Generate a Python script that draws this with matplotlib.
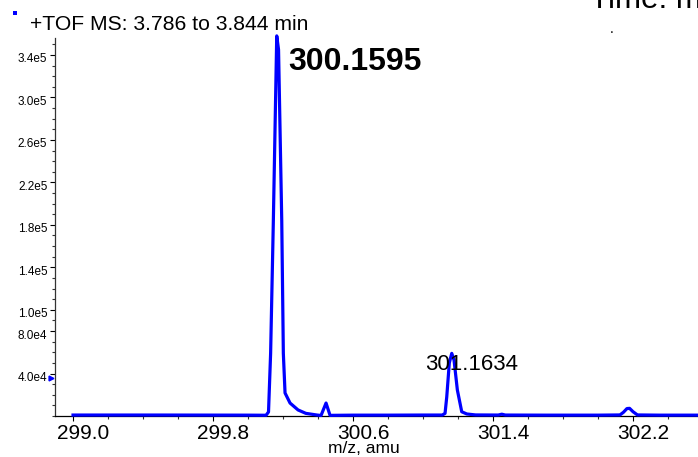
import matplotlib
matplotlib.use('Agg')
import matplotlib.pyplot as plt
from matplotlib.transforms import ScaledTranslation
from matplotlib.ticker import FixedLocator, MultipleLocator
from matplotlib.patches import Rectangle

plt.rcParams['font.family'] = ['Liberation Sans', 'DejaVu Sans']

W, H, DPI = 698, 457, 100

# ---- data ----
mz = [299.00, 299.50, 300.00, 300.103, 300.117, 300.129, 300.1446, 300.164,
      300.1743, 300.1926, 300.2017, 300.2114, 300.240, 300.2857, 300.330,
      300.3943, 300.4171, 300.4457, 300.4686, 300.60, 300.80, 301.00,
      301.110, 301.1257, 301.1354, 301.150, 301.164, 301.177, 301.196,
      301.221, 301.250, 301.30, 301.43, 301.45, 301.47, 301.70, 302.00,
      302.125, 302.145, 302.165, 302.180, 302.200, 302.225, 302.35, 302.60]
intensity = [900, 900, 800, 700, 3800, 59000, 184000, 358000,
             345000, 184000, 59000, 21700, 12200, 5700, 2500,
             900, 500, 12200, 600, 800, 800, 900,
             900, 2500, 18000, 50000, 59000, 52700, 24500,
             4000, 1900, 1000, 900, 1700, 900, 800, 800,
             1000, 3500, 7000, 7200, 4000, 1000, 800, 800]

xtick_values = [299.0, 299.8, 300.6, 301.4, 302.2]
xtick_labels = ['299.0', '299.8', '300.6', '301.4', '302.2']
ytick_values = [4.0e4, 8.0e4, 1.0e5, 1.4e5, 1.8e5, 2.2e5, 2.6e5, 3.0e5, 3.4e5]
ytick_labels = ['4.0e4', '8.0e4', '1.0e5', '1.4e5', '1.8e5', '2.2e5', '2.6e5', '3.0e5', '3.4e5']

peak_labels = ['300.1595', '301.1634']
title = '+TOF MS: 3.786 to 3.844 min'
xlabel = 'm/z, amu'

# ---- figure ----
fig = plt.figure(figsize=(W / DPI, H / DPI), dpi=DPI)
ax = fig.add_axes([55 / W, (H - 416) / H, (W - 55) / W, (416 - 38) / H])

BLUE = '#0000ff'
ax.plot(mz, intensity, color=BLUE, lw=2.3, solid_joinstyle='round', clip_on=False, zorder=3)

ax.set_xlim(298.897, 302.571)
ax.set_ylim(0, 356000)

for s in ['top', 'right']:
    ax.spines[s].set_visible(False)
ax.spines['left'].set_color('#333333')
ax.spines['left'].set_linewidth(0.9)
ax.spines['bottom'].set_color('#000000')
ax.spines['bottom'].set_linewidth(0.9)

ax.xaxis.set_major_locator(FixedLocator(xtick_values))
ax.set_xticklabels(xtick_labels)
ax.xaxis.set_minor_locator(MultipleLocator(0.2))
ax.yaxis.set_major_locator(FixedLocator(ytick_values))
ax.set_yticklabels(ytick_labels)
ax.yaxis.set_minor_locator(MultipleLocator(1e4))

ax.tick_params(axis='x', which='major', direction='out', length=3.5, width=0.8,
               labelsize=15, pad=2, colors='black')
ax.tick_params(axis='x', which='minor', direction='out', length=2.5, width=0.8, colors='#333333')
ax.tick_params(axis='y', which='major', direction='out', length=3.5, width=0.8,
               labelsize=8.5, pad=2, colors='black')
ax.tick_params(axis='y', which='minor', direction='out', length=2.5, width=0.8, colors='#333333')

for lab in ax.get_xticklabels():
    lab.set_transform(lab.get_transform() + ScaledTranslation(10 / DPI, 0, fig.dpi_scale_trans))
for lab in ax.get_yticklabels():
    lab.set_transform(lab.get_transform() + ScaledTranslation(0, -3 / DPI, fig.dpi_scale_trans))

# peak labels
ax.annotate(peak_labels[0], xy=(mz[7], intensity[7]), xytext=(288 / W, 1 - 70 / H),
            textcoords='figure fraction', fontsize=23, fontweight='bold',
            va='baseline', ha='left', annotation_clip=False)
ax.annotate(peak_labels[1], xy=(mz[26], intensity[26]), xytext=(425 / W, 1 - 370 / H),
            textcoords='figure fraction', fontsize=16, va='baseline', ha='left',
            annotation_clip=False)

# title and other figure texts
fig.text(30 / W, 1 - 30 / H, title, fontsize=15.2, va='baseline', ha='left')
fig.text(328 / W, 1 - 453 / H, xlabel, fontsize=12.5, va='baseline', ha='left')
fig.text(590 / W, 1 - 8 / H, 'Time: min', fontsize=22.5, va='baseline', ha='left')
fig.text(610 / W, 1 - 33 / H, '.', fontsize=10, va='baseline', ha='left')

# small blue markers
fig.add_artist(Rectangle((13 / W, 1 - 15 / H), 4 / W, 4 / H, transform=fig.transFigure,
                         facecolor=BLUE, edgecolor='none'))
fig.add_artist(plt.Line2D([51 / W], [1 - 378 / H], marker='>', markersize=3.5, color=BLUE,
                          transform=fig.transFigure, linestyle='none'))

fig.savefig('out.png', dpi=DPI)
